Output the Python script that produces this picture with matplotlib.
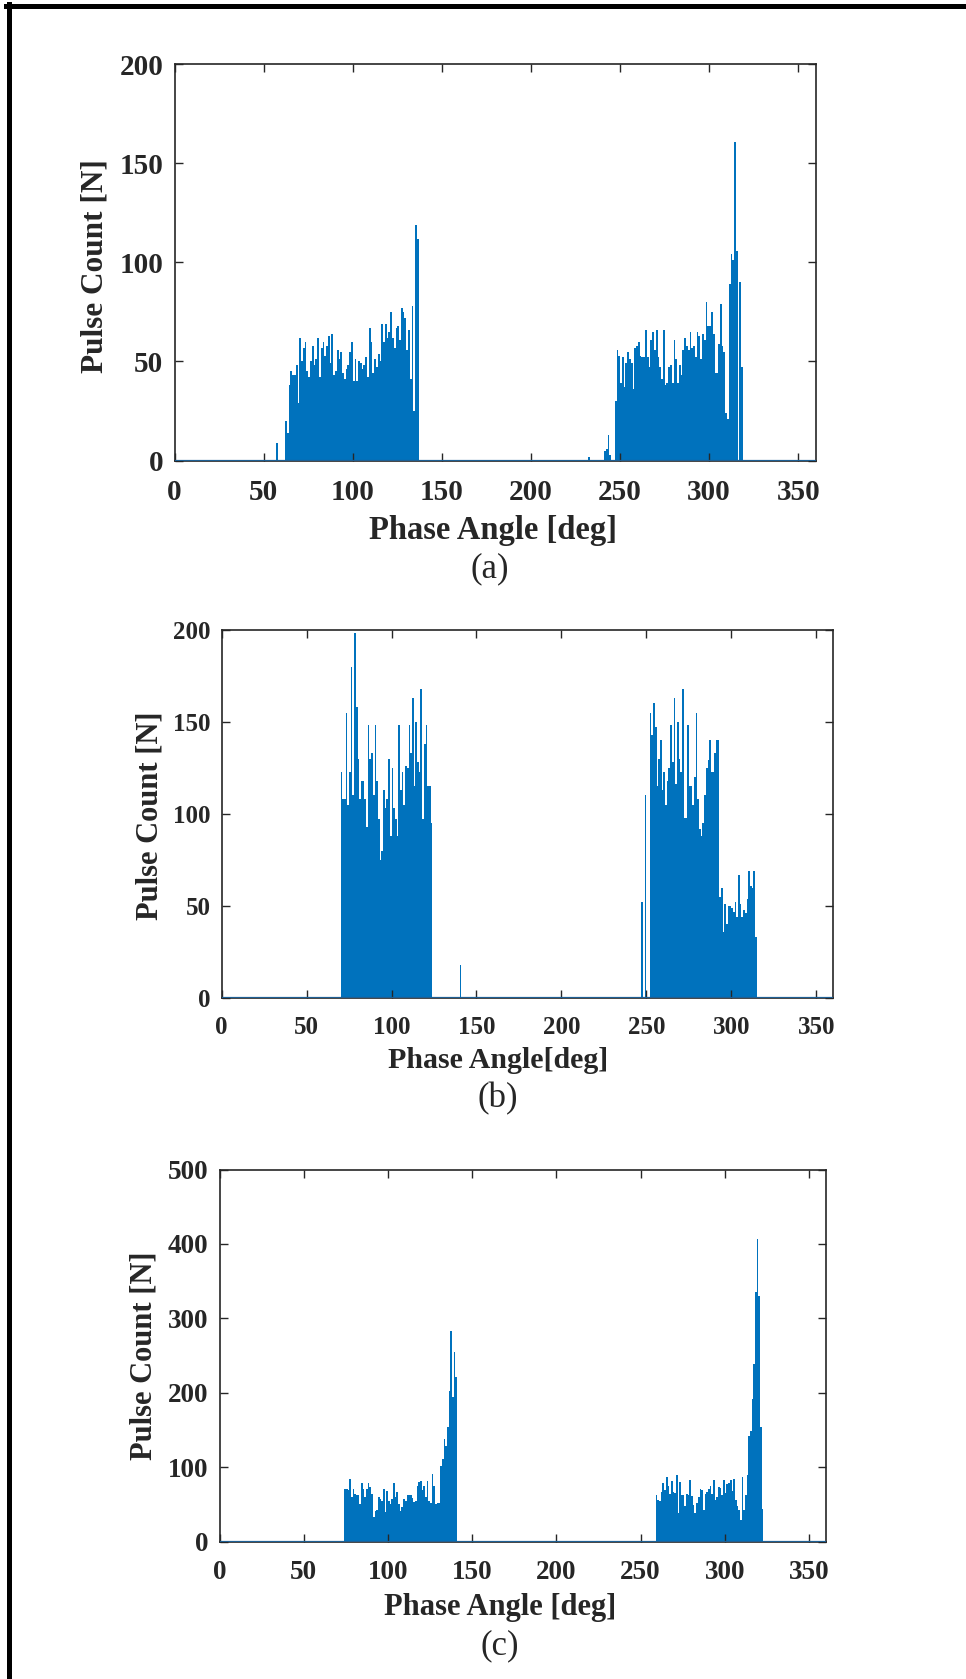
import numpy as np
import matplotlib
matplotlib.use('Agg')
import matplotlib.pyplot as plt
from matplotlib.lines import Line2D

# pulse counts per 1 deg phase bin, each run starts at the given angle
a_starts = [57, 62, 232, 241]
a_counts = [
    [9],
    [20, 14, 38, 45, 43, 43, 48, 29, 62, 50, 57, 60, 45, 42, 50, 58, 48, 51, 62, 42,
     57, 60, 53, 58, 63, 49, 64, 43, 45, 56, 51, 55, 44, 41, 46, 48, 55, 60, 40, 51,
     40, 50, 49, 46, 48, 52, 42, 67, 60, 44, 51, 47, 54, 50, 69, 60, 69, 62, 65, 75,
     62, 57, 67, 68, 61, 77, 75, 72, 56, 66, 41, 78, 25, 119, 112],
    [2],
    [5, 6, 13, 3, 0, 0, 30, 56, 53, 39, 52, 37, 49, 55, 51, 49, 36, 57, 58, 60,
     53, 52, 52, 66, 52, 47, 61, 65, 56, 66, 52, 47, 41, 66, 38, 39, 47, 48, 39, 61,
     51, 39, 48, 43, 56, 62, 58, 56, 65, 57, 58, 52, 65, 63, 51, 64, 61, 80, 68, 68,
     75, 64, 44, 44, 59, 79, 58, 55, 24, 21, 89, 104, 101, 161, 106, 0, 90, 47],
]

b_starts = [70, 140, 247]
b_counts = [
    [123, 108, 108, 155, 105, 123, 180, 110, 198, 158,
     130, 108, 118, 118, 108, 93, 148, 130, 133, 110, 148, 118, 97, 75, 80,
     113, 103, 108, 130, 88, 125, 103, 97, 88, 148, 113, 123, 105, 126, 125,
     148, 133, 163, 115, 150, 128, 123, 168, 97, 138, 148, 115, 115, 95],
    [18],
    [52, 0, 110, 0, 0, 155, 143, 160, 147, 115, 130, 140, 113, 123, 105, 118, 125, 148, 128, 163,
     116, 150, 130, 123, 168, 98, 98, 148, 115, 115, 105, 120, 155, 108, 92, 88, 95, 110, 125, 129,
     140, 123, 123, 133, 140, 140, 55, 60, 36, 51, 40, 50, 50, 49, 47, 52, 44, 67, 51, 44,
     48, 46, 54, 69, 61, 60, 69, 33],
]

c_starts = [74, 259]
c_counts = [
    [70, 71, 69, 84, 60, 70, 64, 63, 63, 51, 79, 70, 60, 71, 79, 73, 64, 33, 41, 42,
     60, 57, 55, 70, 39, 68, 55, 51, 57, 79, 60, 66, 51, 41, 46, 57, 55, 63, 62, 63,
     58, 53, 55, 75, 80, 81, 69, 75, 60, 81, 55, 52, 91, 75, 51, 52, 52,
     101, 111, 138, 129, 154, 202, 283, 194, 255, 221],
    [63, 56, 55, 66, 79, 69, 87, 75, 64, 81, 66, 65, 90, 38, 80, 62, 62, 48, 64, 63,
     82, 61, 49, 38, 52, 60, 70, 69, 42, 64, 66, 71, 75, 64, 82, 56, 60, 73, 72, 62,
     82, 65, 77, 78, 82, 68, 84, 56, 48, 42, 29, 87, 42, 63, 90, 142, 149, 192, 239, 336,
     407, 330, 154, 44],
]

x_ticks = [0, 50, 100, 150, 200, 250, 300, 350]
a_yticks = [0, 50, 100, 150, 200]
b_yticks = [0, 50, 100, 150, 200]
c_yticks = [0, 100, 200, 300, 400, 500]

plt.rcParams['font.family'] = ['Liberation Serif', 'DejaVu Serif']
plt.rcParams['font.weight'] = 'bold'

W, H = 966, 1679
blue = '#0072BD'
dark = '#262626'

fig = plt.figure(figsize=(W/100, H/100), dpi=100)

def px(l, t, r, b):
    return [l/W, 1-b/H, (r-l)/W, (b-t)/H]

def panel(rect, starts, counts, yticks, fs):
    ax = fig.add_axes(px(*rect))
    x = np.concatenate([np.arange(s, s+len(c)) for s, c in zip(starts, counts)])
    y = np.concatenate([np.array(c, float) for c in counts])
    ax.bar(x, y, width=1.0, align='edge', color=blue, linewidth=0)
    ax.axhline(0, color='#1d5f94', lw=1.6, zorder=3)
    ax.set_xlim(0, 360)
    ax.set_ylim(yticks[0], yticks[-1])
    ax.set_xticks(x_ticks)
    ax.set_yticks(yticks)
    for s in ax.spines.values():
        s.set_linewidth(1.2)
        s.set_color(dark)
    ax.tick_params(direction='in', top=True, right=True, length=6, width=1,
                   colors=dark, labelsize=fs)
    ax.tick_params(axis='x', pad=13)
    ax.tick_params(axis='y', pad=8)
    return ax

panel((174.6, 64.3, 816.1, 460.5), a_starts, a_counts, a_yticks, 21)
panel((221.7, 629.7, 833.2, 998.1), b_starts, b_counts, b_yticks, 18)
panel((219.6, 1169.5, 825.8, 1541.5), c_starts, c_counts, c_yticks, 19.5)

def ftext(x, y, s, fs, **kw):
    fig.text(x/W, 1-y/H, s, fontsize=fs, ha='center', va='center', color=dark, **kw)

ftext(95, 266, 'Pulse Count [N]', 22.5, rotation=90)
ftext(493, 530, 'Phase Angle [deg]', 23.5)
ftext(490, 569, '(a)', 25, fontweight='normal')

ftext(150, 816, 'Pulse Count [N]', 22, rotation=90)
ftext(498, 1061, 'Phase Angle[deg]', 21.5)
ftext(498, 1099, '(b)', 25, fontweight='normal')

ftext(144, 1356, 'Pulse Count [N]', 22, rotation=90)
ftext(500, 1607, 'Phase Angle [deg]', 22)
ftext(500, 1646, '(c)', 25, fontweight='normal')

# frame lines at the top and left edge of the page
fig.add_artist(Line2D([6/W, 1], [1-6/H, 1-6/H], transform=fig.transFigure, color='k', lw=3.6))
fig.add_artist(Line2D([8.5/W, 8.5/W], [0, 1-4/H], transform=fig.transFigure, color='k', lw=3.6))

fig.savefig('out.png', dpi=100)
